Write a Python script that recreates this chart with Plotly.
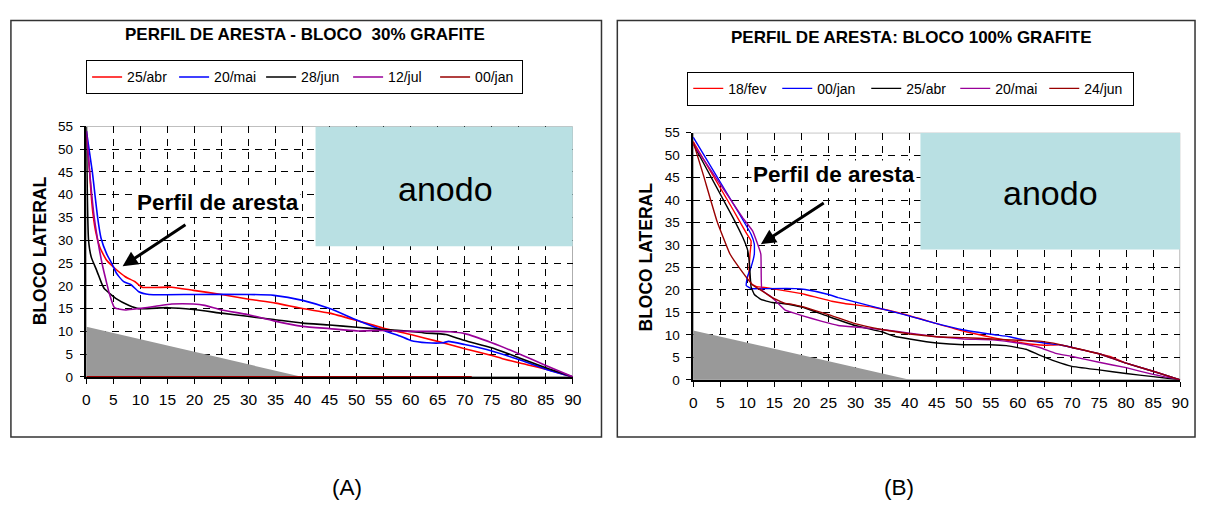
import plotly.graph_objects as go

W, H = 1206, 515

# ---------------- data: chart A (30% grafite) ----------------
a_abr_x = [0, 0.6, 0.9, 1.25, 1.7, 2.5, 3.75, 5.3, 7.2, 9, 10.3, 15.8, 19.8, 25, 29.8, 35, 40, 45, 50, 55, 60, 65, 70, 75, 77, 80, 85, 90]
a_abr_y = [53.2, 45, 39.8, 35.5, 32, 28.4, 25.6, 23.8, 22, 20.9, 19.7, 19.7, 19, 18.1, 17.1, 16.2, 15.0, 14, 12.4, 10.7, 9.3, 7.8, 6.2, 4.7, 4, 3.1, 1.7, 0]

a_mai_x = [0, 1.1, 1.6, 2.1, 2.7, 3.75, 4.7, 5.6, 6.9, 8.2, 9.7, 11.6, 20, 30, 34.7, 40, 45, 50, 55, 58, 60, 63, 66, 67, 70, 75, 80, 85, 90]
a_mai_y = [54, 45, 39.8, 34.8, 30.5, 27, 24.9, 22.7, 20.9, 20.3, 18.7, 18.1, 18.1, 18.1, 17.9, 16.8, 15, 12.5, 10.2, 9, 8, 7.5, 7.5, 7.8, 7.1, 5.7, 3.8, 1.7, 0]

a_jun_x = [0, 0.4, 0.9, 1.9, 2.8, 3.3, 5.5, 7.9, 9.7, 15.1, 19.8, 25, 29.8, 34.7, 40, 45, 50, 55, 60, 63, 65, 66.5, 70, 75, 80, 85, 90]
a_jun_y = [55, 30, 26.3, 23.4, 20.6, 19.4, 17.2, 15.7, 15, 15.2, 14.8, 14, 13.3, 12.6, 11.8, 11.4, 10.9, 10.4, 10, 9.6, 9.5, 9.3, 8, 6.4, 4.2, 2, 0]

a_jul_x = [0, 0.6, 1.4, 2.1, 2.9, 3.75, 4.2, 5.2, 7.3, 9.7, 12.8, 15.8, 19.8, 21.9, 25, 29.8, 34.7, 40, 45, 50, 55, 60, 65, 67.3, 70, 75, 80, 85, 90]
a_jul_y = [54, 45, 35.5, 30, 24.9, 20.6, 18.5, 15.2, 14.7, 15, 15.5, 16, 16, 15.7, 14.7, 13.7, 12.3, 11.1, 10.6, 10.1, 10.2, 10, 10, 9.9, 9.5, 7.5, 5.1, 2.5, 0]

a_jan_x = [0, 71.3]
a_jan_y = [0, 0]

names_a = ["25/abr", "20/mai", "28/jun", "12/jul", "00/jan"]

# ---------------- data: chart B (100% grafite) ----------------
b_fev_x = [0, 7.4, 9.8, 10.7, 10.5, 10.3, 10.7, 11.6, 14.6, 19.5, 20.7, 25.6, 28, 33, 39, 45, 50, 55.4, 60.9, 64.9, 67.6, 70, 75, 77, 80, 85, 90]
b_fev_y = [53, 37.8, 32.7, 30.9, 28, 23.6, 21.4, 20.8, 20.3, 19.3, 19, 17.5, 17, 16.2, 14.6, 12.5, 10.8, 9.4, 8.2, 7.7, 7.8, 7.2, 5.8, 5.2, 3.7, 1.9, 0]

b_jan_x = [0, 8.6, 10.7, 11.3, 11.3, 10.7, 10, 9.8, 10.7, 12.8, 18.9, 20.7, 25, 26.8, 32.9, 39, 45, 50, 55.4, 58.5, 60.9, 64.9, 68.2, 70, 75, 80, 85, 90]
b_jan_y = [54, 36.8, 32.4, 30.2, 28, 25.1, 22.9, 21, 20.3, 20.3, 20.3, 20.1, 19, 18.3, 16.4, 14.5, 12.5, 11.1, 10.1, 9.6, 8.9, 8.2, 7.7, 7.2, 5.8, 3.7, 1.9, 0]

b_abr_x = [0, 7.4, 9.2, 10.1, 10.4, 10.7, 11.3, 12.5, 14.6, 16.5, 20.1, 25, 29.9, 34.8, 37.2, 40, 45, 50, 54.8, 57.9, 61.5, 64, 67, 70, 75, 80, 85, 90]
b_abr_y = [52.5, 36, 31.6, 28.7, 25.8, 20.7, 19, 17.9, 17.2, 17, 16.2, 14.1, 12.1, 10.7, 9.7, 9.1, 8.2, 7.8, 7.8, 7.6, 6.8, 5.5, 4.1, 3, 2.2, 1.4, 0.7, 0]

b_mai_x = [0, 9.2, 11, 12.5, 12.7, 14.6, 17, 20.1, 23.8, 26.8, 30.5, 34.8, 40, 45, 50, 55.4, 60, 64, 67, 70, 75, 80, 85, 90]
b_mai_y = [52.5, 36, 33.1, 28, 20, 18.3, 15.5, 14.3, 13, 12.1, 11.7, 11.2, 10.4, 9.6, 9.1, 8.9, 8.2, 7.2, 5.9, 5.2, 3.9, 2.7, 1.2, 0]

b_jun_x = [0, 1.9, 4.4, 6.8, 8.9, 11, 13.5, 14.6, 17, 18.3, 20.7, 25, 29.9, 34.8, 40, 45, 50, 55.4, 60, 64, 67.6, 70, 75, 80, 85, 90]
b_jun_y = [53, 45.5, 35.3, 28, 24.3, 21.1, 19.2, 18.3, 17, 16.8, 16.1, 14.5, 12.5, 11.2, 10.2, 9.6, 9.4, 9.1, 8.8, 8.6, 7.9, 7.2, 5.8, 3.7, 1.9, 0]

names_b = ["18/fev", "00/jan", "25/abr", "20/mai", "24/jun"]

tick_vals_x = list(range(0, 95, 5))
tick_vals_y = list(range(0, 60, 5))

RED, BLUE, BLACK, PURPLE, DRED = "#FF0000", "#0000FF", "#000000", "#990099", "#990000"
FONT = "Arial, Liberation Sans, sans-serif"

def px(x):
    return x / W

def py(y):
    return 1 - y / H

fig = go.Figure()

series_a = [(a_abr_x, a_abr_y, RED), (a_mai_x, a_mai_y, BLUE), (a_jun_x, a_jun_y, BLACK),
            (a_jul_x, a_jul_y, PURPLE), (a_jan_x, a_jan_y, DRED)]
for (xs, ys, c), n in zip(series_a, names_a):
    fig.add_trace(go.Scatter(x=xs, y=ys, name=n, mode="lines",
                             line=dict(color=c, width=1.6, shape="spline", smoothing=0.5),
                             xaxis="x", yaxis="y", legend="legend"))

series_b = [(b_fev_x, b_fev_y, RED), (b_jan_x, b_jan_y, BLUE), (b_abr_x, b_abr_y, BLACK),
            (b_mai_x, b_mai_y, PURPLE), (b_jun_x, b_jun_y, DRED)]
for (xs, ys, c), n in zip(series_b, names_b):
    fig.add_trace(go.Scatter(x=xs, y=ys, name=n, mode="lines",
                             line=dict(color=c, width=1.4, shape="spline", smoothing=0.3),
                             xaxis="x2", yaxis="y2", legend="legend2"))

axis_common = dict(range=[0, 90], tickvals=tick_vals_x, showgrid=True, gridcolor="#000000",
                   griddash="7px,6px", gridwidth=1, zeroline=False, showline=True,
                   linecolor="#000000", linewidth=1.5, ticks="outside", ticklen=5,
                   tickcolor="#000000", tickfont=dict(family=FONT, size=15.5, color="#000"),
                   ticklabelstandoff=3, layer="below traces")
yaxis_common = dict(range=[0, 55], tickvals=tick_vals_y, showgrid=True, gridcolor="#000000",
                    griddash="7px,6px", gridwidth=1, zeroline=False, showline=True,
                    linecolor="#000000", linewidth=1.5, ticks="outside", ticklen=5,
                    tickcolor="#000000", tickfont=dict(family=FONT, size=13.5, color="#000"),
                    ticklabelstandoff=4, layer="below traces")

fig.update_layout(
    width=W, height=H, margin=dict(l=0, r=0, t=0, b=0),
    paper_bgcolor="white", plot_bgcolor="white",
    font=dict(family=FONT, color="#000"),
    xaxis=dict(domain=[px(83.3), px(575)], anchor="y", **axis_common),
    yaxis=dict(domain=[py(381), py(123)], anchor="x", **yaxis_common),
    xaxis2=dict(domain=[px(696.7), px(1189)], anchor="y2", **axis_common),
    yaxis2=dict(domain=[py(384), py(129.5)], anchor="x2", **yaxis_common),
    legend=dict(x=px(83), y=py(55), xanchor="left", yanchor="top", orientation="h",
                bordercolor="#000", borderwidth=1, bgcolor="white",
                font=dict(family=FONT, size=14), entrywidth=42, tracegroupgap=0),
    legend2=dict(x=px(690.7), y=py(66.7), xanchor="left", yanchor="top", orientation="h",
                 bordercolor="#000", borderwidth=1, bgcolor="white",
                 font=dict(family=FONT, size=14), entrywidth=44, tracegroupgap=0),
    showlegend=True,
)

shapes = []
# chart frames
for x0, x1 in [(7, 604), (620, 1204)]:
    shapes.append(dict(type="rect", xref="paper", yref="paper", x0=px(x0), x1=px(x1),
                       y0=py(443), y1=py(14), line=dict(color="#333", width=1.5), layer="below"))
for xr, yr, ax0, ay0 in [("x", "y", 42.4, 28.7), ("x2", "y2", 42.0, 29.0)]:
    # plot area border
    shapes.append(dict(type="rect", xref=xr, yref=yr, x0=0, x1=90, y0=0, y1=55,
                       line=dict(color="#808080", width=1.2), layer="below"))
    # anodo block
    shapes.append(dict(type="rect", xref=xr, yref=yr, x0=ax0, x1=90, y0=ay0, y1=55,
                       fillcolor="#B9E0E3", line=dict(width=0), layer="between"))
    # grey triangle (cathode block)
    shapes.append(dict(type="path", xref=xr, yref=yr, path="M 0,0 L 0,11 L 40,0 Z",
                       fillcolor="#999999", line=dict(width=0), layer="between"))
fig.update_layout(shapes=shapes)

ann = []
def txt(x, y, t, size, bold=False, angle=0, bg=None):
    d = dict(xref="paper", yref="paper", x=px(x), y=py(y), text=(f"<b>{t}</b>" if bold else t),
             showarrow=False, xanchor="center", yanchor="middle", textangle=angle,
             font=dict(family=FONT, size=size, color="#000"))
    if bg:
        d["bgcolor"] = bg
    ann.append(d)

txt(304, 28, "PERFIL DE ARESTA - BLOCO  30% GRAFITE", 17, True)
txt(917, 31, "PERFIL DE ARESTA: BLOCO 100% GRAFITE", 17, True)
txt(36, 251, "BLOCO LATERAL", 17.5, True, -90)
txt(649, 258, "BLOCO LATERAL", 17.5, True, -90)
txt(216.5, 201.7, "Perfil de aresta", 22.5, True, bg="white")
txt(839.5, 172.7, "Perfil de aresta", 22.5, True, bg="white")
txt(446.7, 187, "anodo", 34)
txt(1058, 192, "anodo", 34)
txt(347, 495, "(A)", 22.5)
txt(905, 495, "(B)", 22.5)

# arrows
for xr, yr, hx, hy, tx, ty in [("x", "y", 6.7, 24.3, 18.6, 33.6), ("x2", "y2", 12.5, 30.2, 24.4, 39.6)]:
    ann.append(dict(xref=xr, yref=yr, x=hx, y=hy, axref=xr, ayref=yr, ax=tx, ay=ty,
                    text="", showarrow=True, arrowhead=2, arrowsize=1, arrowwidth=3,
                    arrowcolor="#000"))
fig.update_layout(annotations=ann)

fig.write_html("out.html")
